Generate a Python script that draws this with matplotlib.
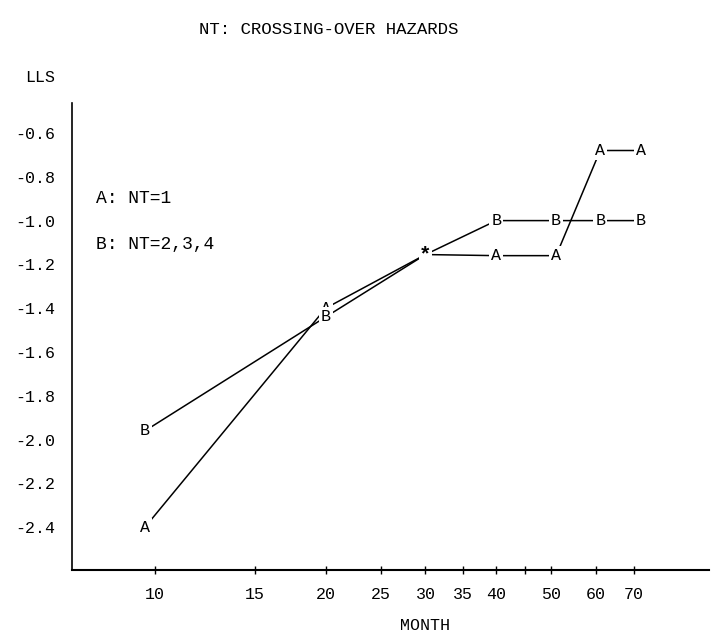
import matplotlib.pyplot as plt
from matplotlib.ticker import NullLocator

# months (log-scaled axis) and LLS values
month = [9.6, 20, 30, 40, 51, 61, 72]
lls_a = [-2.40, -1.40, -1.155, -1.16, -1.16, -0.68, -0.68]   # A: NT=1
lls_b = [-1.96, -1.44, -1.155, -1.00, -1.00, -1.00, -1.00]   # B: NT=2,3,4
shared = 2  # index where both series meet (drawn as '*')

xticks = [10, 15, 20, 25, 30, 35, 40, 45, 50, 60, 70]
xtick_labels = ['10', '15', '20', '25', '30', '35', '40', '', '50', '60', '70']
yticks = [-0.6, -0.8, -1.0, -1.2, -1.4, -1.6, -1.8, -2.0, -2.2, -2.4]

plt.rcParams['font.family'] = ['Liberation Mono', 'DejaVu Sans']
plt.rcParams['font.size'] = 12

fig = plt.figure(figsize=(7.18, 6.36), dpi=100)
ax = fig.add_axes([0.1003, 0.1038, 0.8872, 0.7343])

ax.set_xscale('log')
ax.set_xlim(7.14, 94.9)
ax.set_ylim(-2.595, -0.463)

ax.plot(month, lls_a, color='black', lw=1.1, zorder=1)
ax.plot(month, lls_b, color='black', lw=1.1, zorder=1)

box = dict(facecolor='white', edgecolor='none', pad=1.5)
for i, (x, y) in enumerate(zip(month, lls_a)):
    if i == shared:
        continue
    ax.text(x, y, 'A', ha='center', va='center', bbox=box, zorder=3)
for i, (x, y) in enumerate(zip(month, lls_b)):
    if i == shared:
        continue
    ax.text(x, y, 'B', ha='center', va='center', bbox=box, zorder=4)
ax.text(month[shared], lls_a[shared], '*', fontsize=15, fontweight='bold',
        ha='center', va='center', bbox=dict(facecolor='white', edgecolor='none', pad=0.5), zorder=4)

ax.set_xticks(xticks)
ax.set_xticklabels(xtick_labels)
ax.xaxis.set_minor_locator(NullLocator())
ax.tick_params(axis='x', direction='inout', length=6, width=1, pad=9)

ax.set_yticks(yticks)
ax.set_yticklabels([f'{v:.1f}' for v in yticks])
ax.tick_params(axis='y', length=0, pad=12)

ax.spines['top'].set_visible(False)
ax.spines['right'].set_visible(False)
ax.spines['left'].set_linewidth(1.2)
ax.spines['bottom'].set_linewidth(1.5)

ax.text(0.037, -0.90, 'A: NT=1', fontsize=13, transform=ax.get_yaxis_transform(), va='center')
ax.text(0.037, -1.11, 'B: NT=2,3,4', fontsize=13, transform=ax.get_yaxis_transform(), va='center')

fig.text(329 / 718, 1 - 30 / 636, 'NT: CROSSING-OVER HAZARDS', fontsize=12.5, ha='center', va='center')
fig.text(40 / 718, 1 - 77 / 636, 'LLS', ha='center', va='center')
fig.text(425 / 718, 1 - 626 / 636, 'MONTH', ha='center', va='center')

fig.savefig('out.png', dpi=100)
